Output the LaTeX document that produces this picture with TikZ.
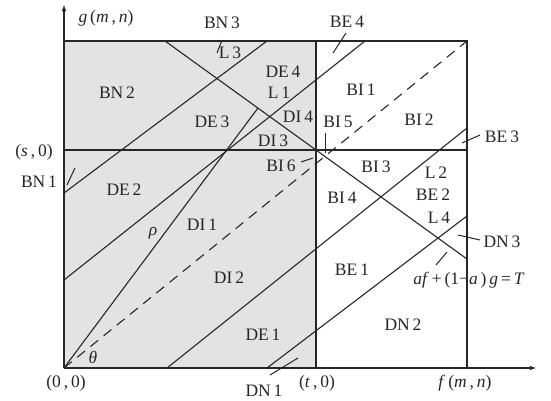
\documentclass[tikz,border=0pt]{standalone}
\usepackage{fontspec}
\setmainfont{Liberation Serif}
\begin{document}
\begin{tikzpicture}[x=1pt,y=-1pt,
  lbl/.style={inner sep=0pt,text=black!85,font=\fontsize{17.5}{19}\selectfont},
  ln/.style={line width=1.1pt,black!85},
  tick/.style={line width=1pt,black!85},
  dsh/.style={line width=1.1pt,black!85,dash pattern=on 10pt off 7pt}]
\useasboundingbox (0,0) rectangle (551,401);
% key points
\coordinate (O) at (64,368);
\coordinate (TL) at (64,41);
\coordinate (TR) at (467,41);
\coordinate (BR) at (467,368);
\coordinate (Tt) at (316,41);
\coordinate (Tb) at (316,368);
\coordinate (Sl) at (64,150);
\coordinate (Sr) at (467,150);
\coordinate (Ya) at (64,5);
\coordinate (Xa) at (536,368);
% shaded region
\fill[black!11] (TL) rectangle (Tb);
% lines
\coordinate (A1) at (165,41);  \coordinate (A2) at (467,259);
\coordinate (B1) at (64,193);  \coordinate (B2) at (267,41);
\coordinate (C1) at (64,280);  \coordinate (C2) at (365,41);
\coordinate (R2) at (258,108);
\coordinate (D1) at (167,368); \coordinate (D2) at (467,128);
\coordinate (E1) at (267,368); \coordinate (E2) at (467,216);
\draw[dsh] (O) -- (TR);
\draw[ln] (A1) -- (A2);
\draw[ln] (B1) -- (B2);
\draw[ln] (C1) -- (C2);
\draw[ln] (O) -- (R2);
\draw[ln] (D1) -- (D2);
\draw[ln] (E1) -- (E2);
% box
\draw[ln] (TL) -- (TR) -- (BR);
\draw[ln] (Tt) -- (Tb);
\draw[ln] (Sl) -- (Sr);
% axes
\draw[ln,-latex] (O) -- (Ya);
\draw[ln,-latex] (O) -- (Xa);
% ticks
\coordinate (k1a) at (222,40); \coordinate (k1b) at (217,53);
\coordinate (k2a) at (67,185); \coordinate (k2b) at (75,168);
\coordinate (k3a) at (346,33); \coordinate (k3b) at (333,53);
\coordinate (k4a) at (480,135); \coordinate (k4b) at (462,143);
\coordinate (k5a) at (325,133); \coordinate (k5b) at (325,153);
\coordinate (k6a) at (301,162); \coordinate (k6b) at (313,158);
\coordinate (k7a) at (270,375); \coordinate (k7b) at (298,358);
\coordinate (k8a) at (480,240); \coordinate (k8b) at (458,235);
\coordinate (k9a) at (436,265); \coordinate (k9b) at (447,252);
\foreach \k in {1,...,9} \draw[tick] (k\k a) -- (k\k b);
% labels
\node[lbl] (gmn) at (106,18) {\textit{g}\,(\textit{m}\,,\,\textit{n})};
\node[lbl] (fmn) at (465,383) {\textit{f}\,(\textit{m}\,,\,\textit{n})};
\node[lbl] (s0) at (34,152) {(\textit{s}\,,\,0)};
\node[lbl] (t0) at (317,383) {(\textit{t}\,,\,0)};
\node[lbl] (o0) at (66,383) {(0\,,\,0)};
\node[lbl] (th) at (93,357) {\textit{θ}};
\node[lbl] (rho) at (153,233) {\textit{ρ}};
\node[lbl] (BN3) at (222,23) {BN\,3};
\node[lbl] (L3) at (230,53) {L\,3};
\node[lbl] (BN2) at (117,93) {BN\,2};
\node[lbl] (BN1) at (39,182) {BN\,1};
\node[lbl] (DE3) at (212,122) {DE\,3};
\node[lbl] (DE4) at (283,72) {DE\,4};
\node[lbl] (L1) at (279,93) {L\,1};
\node[lbl] (DI4) at (298,117) {DI\,4};
\node[lbl] (DI3) at (273,141) {DI\,3};
\node[lbl] (BI5) at (338,122) {BI\,5};
\node[lbl] (BI6) at (281,166) {BI\,6};
\node[lbl] (BI1) at (361,90) {BI\,1};
\node[lbl] (BI2) at (419,120) {BI\,2};
\node[lbl] (BI3) at (376,167) {BI\,3};
\node[lbl] (BI4) at (342,198) {BI\,4};
\node[lbl] (L2) at (436,173) {L\,2};
\node[lbl] (BE2) at (433,195) {BE\,2};
\node[lbl] (L4) at (439,218) {L\,4};
\node[lbl] (BE3) at (502,137) {BE\,3};
\node[lbl] (BE4) at (347,22) {BE\,4};
\node[lbl] (DN3) at (502,242) {DN\,3};
\node[lbl] (Teq) at (469,280) {\textit{af}\,+\,(1−\textit{a}\,)\,\textit{g}\,=\,\textit{T}};
\node[lbl] (BE1) at (352,270) {BE\,1};
\node[lbl] (DN2) at (403,325) {DN\,2};
\node[lbl] (DN1) at (264,391) {DN\,1};
\node[lbl] (DI1) at (202,225) {DI\,1};
\node[lbl] (DI2) at (229,278) {DI\,2};
\node[lbl] (DE1) at (263,335) {DE\,1};
\node[lbl] (DE2) at (124,190) {DE\,2};
\end{tikzpicture}
\end{document}
